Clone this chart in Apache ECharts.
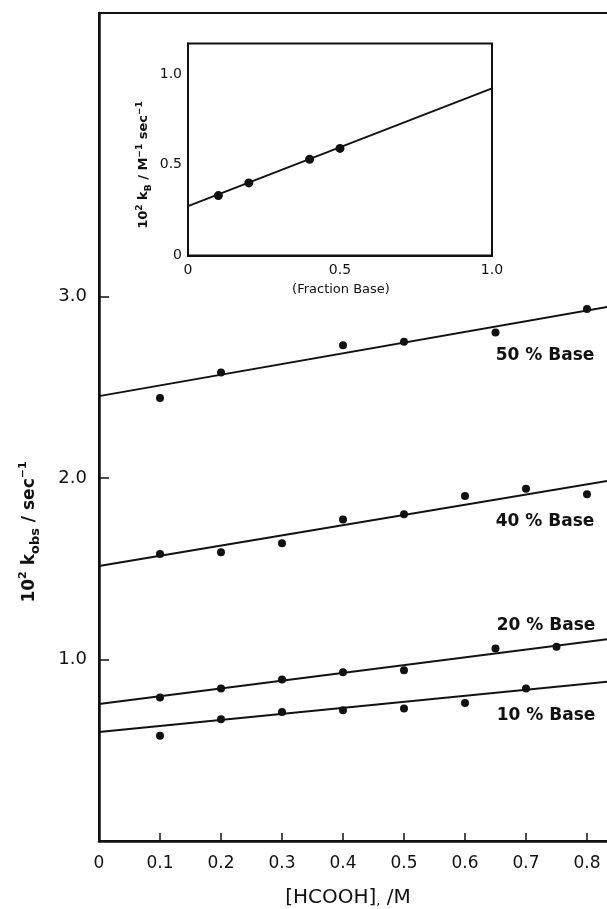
<!DOCTYPE html>
<html>
<head>
<meta charset="utf-8">
<script src="https://cdn.jsdelivr.net/npm/echarts@6/dist/echarts.min.js"></script>
<style>html,body{margin:0;padding:0;background:#fff;}#c{width:607px;height:909px;}</style>
</head>
<body>
<div id="c"></div>
<script>
// ---- data ----
const base50X = [0.1, 0.2, 0.4, 0.5, 0.65, 0.8];
const base50Y = [2.44, 2.58, 2.73, 2.75, 2.80, 2.93];
const base40X = [0.1, 0.2, 0.3, 0.4, 0.5, 0.6, 0.7, 0.8];
const base40Y = [1.58, 1.59, 1.64, 1.77, 1.80, 1.90, 1.94, 1.91];
const base20X = [0.1, 0.2, 0.3, 0.4, 0.5, 0.65, 0.75];
const base20Y = [0.79, 0.84, 0.89, 0.93, 0.94, 1.06, 1.07];
const base10X = [0.1, 0.2, 0.3, 0.4, 0.5, 0.6, 0.7];
const base10Y = [0.58, 0.67, 0.71, 0.72, 0.73, 0.76, 0.84];
const fitX = [0, 0.9];
const fit50Y = [2.45, 2.98];
const fit40Y = [1.515, 2.02];
const fit20Y = [0.755, 1.14];
const fit10Y = [0.60, 0.90];
const insetX = [0.1, 0.2, 0.4, 0.5];
const insetY = [0.33, 0.40, 0.53, 0.59];
const insetFitX = [0, 1.0];
const insetFitY = [0.272, 0.921];
const seriesNames = ['50 % Base', '40 % Base', '20 % Base', '10 % Base'];
const mainYTicks = [1, 2, 3];
const insetXLabels = [0, 0.5, 1.0];

function pairs(xs, ys) { return xs.map((x, i) => [x, ys[i]]); }

const FONT = 'DejaVu Sans';
const INK = '#111';
const chart = echarts.init(document.getElementById('c'), null, {renderer: 'canvas'});

function scatter(name, xs, ys, axisIdx, size) {
  return {type: 'scatter', name, xAxisIndex: axisIdx, yAxisIndex: axisIdx,
    data: pairs(xs, ys), symbol: 'circle', symbolSize: size,
    itemStyle: {color: INK, opacity: 1}, silent: true, z: 5};
}
function fit(xs, ys, axisIdx, w) {
  return {type: 'line', xAxisIndex: axisIdx, yAxisIndex: axisIdx,
    data: pairs(xs, ys), showSymbol: false, symbol: 'none',
    lineStyle: {color: INK, width: w}, silent: true, z: 4};
}

const option = {
  backgroundColor: '#fff',
  animation: false,
  grid: [
    {left: 99, top: 13, right: -41, bottom: 68, show: true, borderColor: INK, borderWidth: 2, backgroundColor: 'transparent', outerBoundsMode: 'none', containLabel: false},
    {left: 188, top: 43.5, right: 115, bottom: 653.5, show: true, borderColor: INK, borderWidth: 2, backgroundColor: '#fff', z: 3, outerBoundsMode: 'none', containLabel: false}
  ],
  xAxis: [
    {type: 'value', gridIndex: 0, min: 0, max: 0.9, interval: 0.1,
      axisLine: {show: true, onZero: false, lineStyle: {color: INK, width: 2.5}},
      axisTick: {show: true, inside: true, length: 8, lineStyle: {color: INK, width: 1.5}},
      axisLabel: {color: INK, fontFamily: FONT, fontSize: 17, margin: 14, hideOverlap: false,
        formatter: v => (Math.abs(v) < 1e-9 ? '0' : (Math.round(v * 10) / 10).toFixed(1))},
      splitLine: {show: false}},
    {type: 'value', gridIndex: 1, min: 0, max: 1.0, interval: 0.1,
      axisLine: {show: true, onZero: false, lineStyle: {color: INK, width: 2}},
      axisTick: {show: true, inside: true, length: 4, lineStyle: {color: INK, width: 1}},
      axisLabel: {color: INK, fontFamily: FONT, fontSize: 14, margin: 8, showMaxLabel: true,
        formatter: v => {
          const r = Math.round(v * 10) / 10;
          if (!insetXLabels.some(t => Math.abs(t - r) < 1e-9)) return '';
          return r === 0 ? '0' : r.toFixed(1);
        }},
      splitLine: {show: false}}
  ],
  yAxis: [
    {type: 'value', gridIndex: 0, min: 0, max: 4.56, interval: 1,
      axisLine: {show: true, onZero: false, lineStyle: {color: INK, width: 2.5}},
      axisTick: {show: true, inside: true, length: 10, lineStyle: {color: INK, width: 1.5}, customValues: mainYTicks},
      axisLabel: {color: INK, fontFamily: FONT, fontSize: 18, margin: 12, customValues: mainYTicks,
        formatter: v => (mainYTicks.indexOf(Math.round(v)) >= 0 && Math.abs(v - Math.round(v)) < 1e-9 ? v.toFixed(1) : '')},
      splitLine: {show: false}},
    {type: 'value', gridIndex: 1, min: 0, max: 1.168, interval: 0.5,
      axisLine: {show: true, onZero: false, lineStyle: {color: INK, width: 2}},
      axisTick: {show: true, inside: true, length: 7, lineStyle: {color: INK, width: 1.5}},
      axisLabel: {color: INK, fontFamily: FONT, fontSize: 14, margin: 6, showMaxLabel: false,
        formatter: v => (Math.abs(v) < 1e-9 ? '0' : (v > 1.1 ? '' : v.toFixed(1)))},
      splitLine: {show: false}}
  ],
  series: [
    fit(fitX, fit50Y, 0, 2), fit(fitX, fit40Y, 0, 2), fit(fitX, fit20Y, 0, 2), fit(fitX, fit10Y, 0, 2),
    scatter(seriesNames[0], base50X, base50Y, 0, 8),
    scatter(seriesNames[1], base40X, base40Y, 0, 8),
    scatter(seriesNames[2], base20X, base20Y, 0, 8),
    scatter(seriesNames[3], base10X, base10Y, 0, 8),
    fit(insetFitX, insetFitY, 1, 1.8),
    scatter('inset', insetX, insetY, 1, 9)
  ],
  graphic: [
    {type: 'text', x: 545, y: 356, z: 10, style: {text: seriesNames[0], fill: INK, font: 'bold 17px "DejaVu Sans"', align: 'center', verticalAlign: 'middle'}},
    {type: 'text', x: 545, y: 522, z: 10, style: {text: seriesNames[1], fill: INK, font: 'bold 17px "DejaVu Sans"', align: 'center', verticalAlign: 'middle'}},
    {type: 'text', x: 546, y: 626, z: 10, style: {text: seriesNames[2], fill: INK, font: 'bold 17px "DejaVu Sans"', align: 'center', verticalAlign: 'middle'}},
    {type: 'text', x: 546, y: 716, z: 10, style: {text: seriesNames[3], fill: INK, font: 'bold 17px "DejaVu Sans"', align: 'center', verticalAlign: 'middle'}},
    {type: 'text', x: 348, y: 898, z: 10, style: {
      text: '{a|[HCOOH]}{s|,}{a| /M}', align: 'center', verticalAlign: 'middle',
      rich: {a: {fontFamily: FONT, fontSize: 20, fill: INK, color: INK},
             s: {fontFamily: FONT, fontSize: 13, fill: INK, color: INK, verticalAlign: 'bottom'}}}},
    {type: 'text', x: 30, y: 532, rotation: Math.PI / 2, z: 10, style: {
      text: '{a|10}{p|2}{a| k}{b|obs}{a| / sec}{p|−1}', align: 'center', verticalAlign: 'middle',
      rich: {a: {fontFamily: FONT, fontSize: 17, fontWeight: 'bold', fill: INK, color: INK, lineHeight: 24},
             p: {fontFamily: FONT, fontSize: 11, fontWeight: 'bold', fill: INK, color: INK, verticalAlign: 'top', lineHeight: 24},
             b: {fontFamily: FONT, fontSize: 13, fontWeight: 'bold', fill: INK, color: INK, verticalAlign: 'bottom', lineHeight: 24}}}},
    {type: 'text', x: 341, y: 290, z: 10, style: {text: '(Fraction Base)', fill: INK, font: '13px "DejaVu Sans"', align: 'center', verticalAlign: 'middle'}},
    {type: 'text', x: 144, y: 165, rotation: Math.PI / 2, z: 10, style: {
      text: '{a|10}{p|2}{a| k}{b|B}{a| / M}{p|−1}{a| sec}{p|−1}', align: 'center', verticalAlign: 'middle',
      rich: {a: {fontFamily: FONT, fontSize: 13, fontWeight: 'bold', fill: INK, color: INK, lineHeight: 18},
             p: {fontFamily: FONT, fontSize: 9, fontWeight: 'bold', fill: INK, color: INK, verticalAlign: 'top', lineHeight: 18},
             b: {fontFamily: FONT, fontSize: 9, fontWeight: 'bold', fill: INK, color: INK, verticalAlign: 'bottom', lineHeight: 18}}}}
  ]
};
chart.setOption(option);
</script>
</body>
</html>
